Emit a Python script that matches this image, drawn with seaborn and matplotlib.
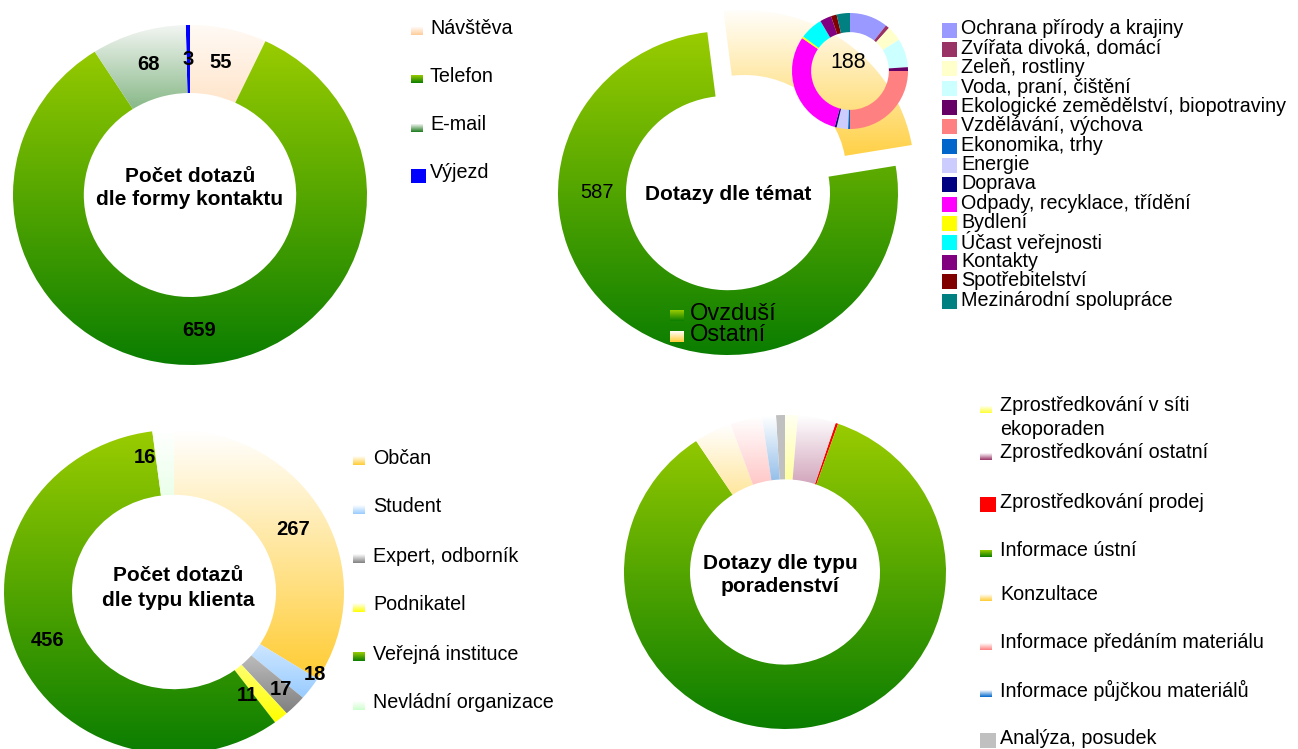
import numpy as np
import matplotlib
matplotlib.use("Agg")
import matplotlib.pyplot as plt
import matplotlib.colors as mcolors
from matplotlib.patches import Rectangle
import seaborn as sns

W, H = 1298, 749

# ---- data ----
contact_labels = ["Návštěva", "Telefon", "E-mail", "Výjezd"]
contact_values = [55, 659, 68, 3]

topic_labels = ["Ovzduší", "Ostatní"]
topic_values = [587, 188]

other_labels = ["Ochrana přírody a krajiny", "Zvířata divoká, domácí", "Zeleň, rostliny",
                "Voda, praní, čištění", "Ekologické zemědělství, biopotraviny",
                "Vzdělávání, výchova", "Ekonomika, trhy", "Energie", "Doprava",
                "Odpady, recyklace, třídění", "Bydlení", "Účast veřejnosti", "Kontakty",
                "Spotřebitelství", "Mezinárodní spolupráce"]
other_values = [20, 2, 8, 15, 2, 47, 1, 6, 1, 57, 1, 12, 6, 3, 7]

client_labels = ["Občan", "Student", "Expert, odborník", "Podnikatel",
                 "Veřejná instituce", "Nevládní organizace"]
client_values = [267, 18, 17, 11, 456, 16]

advice_labels = ["Zprostředkování v síti\nekoporaden", "Zprostředkování ostatní",
                 "Zprostředkování prodej", "Informace ústní", "Konzultace",
                 "Informace předáním materiálu", "Informace půjčkou materiálů",
                 "Analýza, posudek"]
advice_values = [10, 30, 2, 670, 30, 25, 11, 7]

# ---- colours (top, bottom) of the vertical gradients ----
GREEN = ("#99CC00", "#0A7D00")
contact_fills = [("#FFFAF5", "#FFCC99"), GREEN, ("#F2F5F2", "#1A7A1A"), ("#0000FF", "#0000FF")]
topic_fills = [GREEN, ("#FFFFFF", "#FFCC33")]
other_colors = ["#9999FF", "#993366", "#FFFFCC", "#CCFFFF", "#660066", "#FF8080", "#0066CC",
                "#CCCCFF", "#000080", "#FF00FF", "#FFFF00", "#00FFFF", "#800080", "#800000",
                "#008080"]
client_fills = [("#FFFFFF", "#FFCC33"), ("#FFFFFF", "#99CCFF"), ("#FFFFFF", "#808080"),
                ("#FFFFFF", "#FFFF00"), GREEN, ("#FFFFFF", "#CCFFCC")]
advice_fills = [("#FFFFF0", "#FFFF33"), ("#FFFFFF", "#993366"), ("#FF0000", "#FF0000"), GREEN,
                ("#FFFFFF", "#FFCC33"), ("#FFFFFF", "#FF8080"), ("#FFFFFF", "#0066CC"),
                ("#C0C0C0", "#C0C0C0")]

sns.set_theme(style="white")
plt.rcParams["font.family"] = ["Liberation Sans", "DejaVu Sans"]
plt.rcParams["text.color"] = "black"

fig = plt.figure(figsize=(W / 100, H / 100), dpi=100)


def gradient(top, bottom, n=128):
    t = np.array(mcolors.to_rgb(top))
    b = np.array(mcolors.to_rgb(bottom))
    f = np.linspace(0, 1, n)[:, None]
    return (b + (t - b) * f)[:, None, :]  # row 0 = bottom colour


def paint(ax, wedge, top, bottom):
    if top == bottom:
        wedge.set_facecolor(top)
        return
    v = wedge.get_path().vertices
    im = ax.imshow(gradient(top, bottom), origin="lower", aspect="auto",
                   extent=[v[:, 0].min(), v[:, 0].max(), v[:, 1].min(), v[:, 1].max()],
                   interpolation="bilinear", zorder=wedge.get_zorder())
    im.set_clip_path(wedge)
    wedge.set_facecolor("none")


def donut(cx, cy, rx, ry, values, fills, hole=0.6, start=90, ccw=False, explode=None, pad=1.02):
    ax = fig.add_axes([(cx - rx * pad) / W, 1 - (cy + ry * pad) / H,
                       2 * rx * pad / W, 2 * ry * pad / H])
    wedges, _ = ax.pie(values, startangle=start, counterclock=ccw, explode=explode, radius=1,
                       wedgeprops=dict(width=1 - hole, linewidth=0))
    for w, (top, bot) in zip(wedges, fills):
        paint(ax, w, top, bot)
    ax.set_xlim(-pad, pad)
    ax.set_ylim(-pad, pad)
    ax.set_aspect("auto")
    ax.axis("off")
    return ax, wedges


def mid_label(ax, wedge, text, r=0.8, dang=0.0, **kw):
    a = np.deg2rad((wedge.theta1 + wedge.theta2) / 2 + dang)
    x, y = wedge.center
    ax.text(x + r * np.cos(a), y + r * np.sin(a), text, ha="center", va="center", **kw)


bold = dict(fontsize=14.5, fontweight="bold", color="black")

# ---- top left: forma kontaktu ----
ax1, w1 = donut(190, 195, 177, 170, contact_values, contact_fills)
for w, v in zip(w1, contact_values):
    mid_label(ax1, w, str(v), **bold)

# ---- top right: témata ----
ax2, w2 = donut(728, 193, 170, 162, topic_values, topic_fills, start=97, ccw=True,
                explode=[0, 0.16], pad=1.25)
ax2.text(-0.77, 0.0, str(topic_values[0]), ha="center", va="center", fontsize=14.5)

ax3 = fig.add_axes([(850 - 58) / W, 1 - (71 + 58) / H, 116 / W, 116 / H])
ax3.pie(other_values, colors=other_colors, startangle=90, counterclock=False, radius=1,
        wedgeprops=dict(width=0.33, linewidth=0))
ax3.set_xlim(-1, 1)
ax3.set_ylim(-1, 1)
ax3.set_aspect("auto")
ax3.axis("off")
ax3.text(-0.03, 0.14, str(topic_values[1]), ha="center", va="center", fontsize=15.5)

# ---- bottom left: typ klienta ----
ax4, w4 = donut(174, 592, 170, 162, client_values, client_fills)
client_r = [0.8, 0.97, 0.87, 0.77, 0.8, 0.85]
client_da = [0, 5, 1, -5, 0, 8]
for w, v, r, da in zip(w4, client_values, client_r, client_da):
    mid_label(ax4, w, str(v), r=r, dang=da, **bold)

# ---- bottom right: typ poradenství ----
ax5, w5 = donut(785, 572, 161, 157, advice_values, advice_fills, hole=0.59)

# ---- overlay: titles and legends in pixel coordinates ----
lay = fig.add_axes([0, 0, 1, 1])
lay.patch.set_alpha(0)


def swatch(x0, y0, w, h, top, bottom):
    if top == bottom:
        lay.add_patch(Rectangle((x0, y0), w, h, facecolor=top, linewidth=0))
    else:
        lay.imshow(gradient(top, bottom), origin="lower", aspect="auto",
                   extent=[x0, x0 + w, y0 + h, y0], interpolation="bilinear")


tfont = dict(fontsize=15, fontweight="bold", ha="center", va="center")
lay.text(190, 188, "Počet dotazů\ndle formy kontaktu", linespacing=1.3, **tfont)
lay.text(728, 194, "Dotazy dle témat", **tfont)
lay.text(178, 588, "Počet dotazů\ndle typu klienta", linespacing=1.4, **tfont)
lay.text(780, 575, "Dotazy dle typu\nporadenství", linespacing=1.3, **tfont)

lfont = dict(fontsize=14.2, va="center", ha="left", color="black")

# top-left legend
for i, (lab, (top, bot)) in enumerate(zip(contact_labels, contact_fills)):
    yc = 28 + 48.3 * i
    if top == bot:
        swatch(411, yc - 4, 15, 14, top, bot)
    else:
        swatch(411, yc - 1, 12, 8, top, bot)
    lay.text(430, yc, lab, **lfont)

# top-right legends
for i, (lab, col) in enumerate(zip(other_labels, other_colors)):
    yc = 29 + 19.36 * i
    swatch(942, yc - 6.5, 15, 15, col, col)
    lay.text(961, yc, lab, **lfont)
for i, (lab, (top, bot)) in enumerate(zip(topic_labels, topic_fills)):
    yc = 314 + 21 * i
    swatch(670, yc - 4, 14, 11, top, bot)
    lay.text(690, yc, lab, fontsize=17, va="center", ha="left")

# bottom-left legend
for i, (lab, (top, bot)) in enumerate(zip(client_labels, client_fills)):
    yc = 458 + 49 * i
    swatch(353, yc - 2, 12, 9, top, bot)
    lay.text(373, yc, lab, **lfont)

# bottom-right legend
adv_y = [406, 453, 502, 550, 594, 643, 690, 738]
for lab, (top, bot), yc in zip(advice_labels, advice_fills, adv_y):
    if top == bot:
        swatch(980, yc - 5, 16, 15, top, bot)
    else:
        swatch(980, yc, 12, 7, top, bot)
    if "\n" in lab:
        lay.text(1000, yc - 10, lab, fontsize=14.2, va="top", ha="left", linespacing=1.33)
    else:
        lay.text(1000, yc, lab, **lfont)

lay.set_xlim(0, W)
lay.set_ylim(H, 0)
lay.axis("off")

fig.savefig("out.png", dpi=100)
